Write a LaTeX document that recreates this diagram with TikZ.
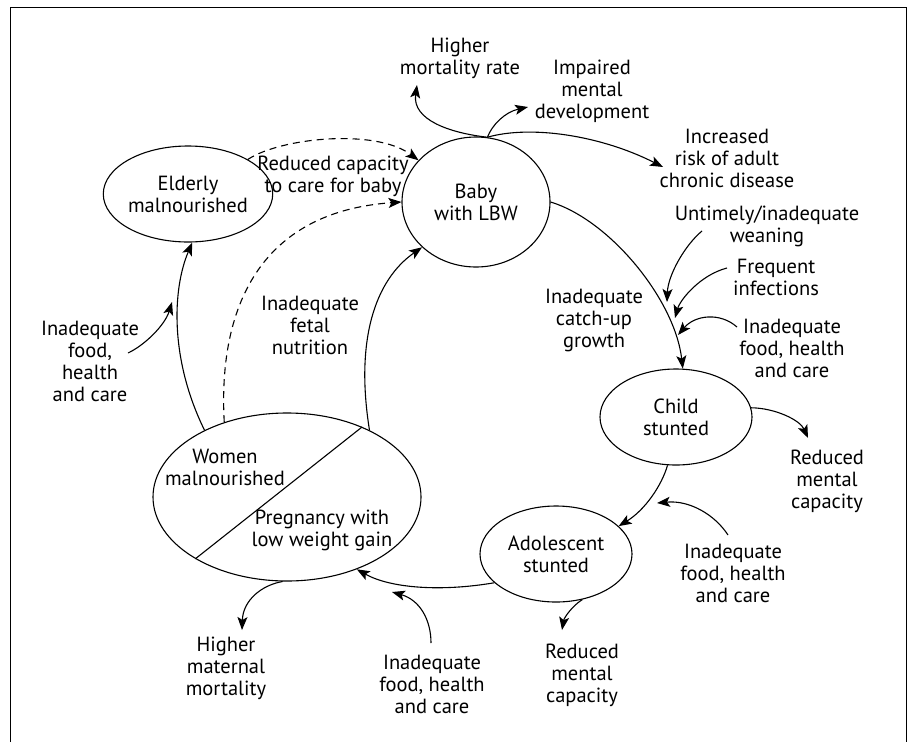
\documentclass[tikz,border=0pt]{standalone}
\usepackage{fontspec}
\setmainfont{PT Sans}
\usetikzlibrary{shapes.geometric,arrows.meta}
\newcommand{\lblfont}{\fontsize{20.5}{22}\selectfont}
\tikzset{
  lbl/.style={align=center, font=\lblfont, inner sep=0pt},
  ell/.style={ellipse, draw, line width=1.1pt, inner sep=0pt, align=center, font=\lblfont},
  arr/.style={line width=1.1pt, -{Stealth[length=13pt,width=10pt,inset=3pt]}},
  dsh/.style={arr, dash pattern=on 7pt off 5pt},
}
\begin{document}
\begin{tikzpicture}[x=1pt,y=-1pt]
\useasboundingbox (0,0) rectangle (912,742);
\draw[line width=0.9pt] (10,742) -- (10,7) -- (906,7) -- (906,742);

% ellipses
\node[ell, minimum width=150, minimum height=96] (elderly) at (188,194) {Elderly\\malnourished};
\node[ell, minimum width=148, minimum height=130] (baby) at (476,202) {Baby\\with LBW};
\node[ell, minimum width=152, minimum height=96] (child) at (676,417) {Child\\stunted};
\node[ell, minimum width=152, minimum height=96] (adol) at (556,554) {Adolescent\\stunted};
\node[ell, minimum width=268, minimum height=168] (women) at (287,497) {};
\draw[line width=1.1pt] (women.214) -- (women.43);
\node[lbl] (wm) at (225,467) {Women\\malnourished};
\node[lbl] (pw) at (322,530) {Pregnancy with\\low weight gain};

% labels
\node[lbl] (hmr) at (460,58) {Higher\\mortality rate};
\node[lbl] (imd) at (592,91) {Impaired\\mental\\development};
\node[lbl] (irc) at (727,158) {Increased\\risk of adult\\chronic disease};
\node[lbl] (rcc) at (333,176) {Reduced capacity\\to care for baby};
\node[lbl] (ifn) at (310,325) {Inadequate\\fetal\\nutrition};
\node[lbl] (ifl) at (90,361) {Inadequate\\food,\\health\\and care};
\node[lbl] (uiw) at (767,226) {Untimely/inadequate\\weaning};
\node[lbl] (fin) at (776,277) {Frequent\\infections};
\node[lbl] (icg) at (594,320) {Inadequate\\catch-up\\growth};
\node[lbl] (ifr1) at (792,348) {Inadequate\\food, health\\and care};
\node[lbl] (rmc1) at (827,481) {Reduced\\mental\\capacity};
\node[lbl] (ifr2) at (733,573) {Inadequate\\food, health\\and care};
\node[lbl] (rmc2) at (582,675) {Reduced\\mental\\capacity};
\node[lbl] (hmm) at (226,668) {Higher\\maternal\\mortality};
\node[lbl] (ifb) at (432,684) {Inadequate\\food, health\\and care};

% free ends
\coordinate (e-hmr) at (417,85);
\coordinate (e-imd) at (528,107);
\coordinate (e-irc) at (663,167);
\coordinate (s-ifl) at (128,353);
\coordinate (e-ifl) at (172,302);
\coordinate (s-uiw) at (702,231);
\coordinate (e-uiw) at (667,302);
\coordinate (s-fin) at (727,268);
\coordinate (e-fin) at (675,318);
\coordinate (s-ifr1) at (737,327);
\coordinate (e-ifr1) at (678,335);
\coordinate (e-rmc1) at (808,438);
\coordinate (s-ifr2) at (728,535);
\coordinate (e-ifr2) at (657,503);
\coordinate (e-rmc2) at (562,630);
\coordinate (e-hmm) at (242,630);
\coordinate (s-ifb) at (431,643);
\coordinate (e-ifb) at (392,592);

% baby outcomes
\draw[arr] (baby.80) .. controls (450,133) and (412,120) .. (e-hmr);
\draw[arr] (baby.80) .. controls (492,125) and (505,112) .. (e-imd);
\draw[arr] (baby.80) .. controls (530,125) and (600,135) .. (e-irc);

% dashed
\draw[dsh] (elderly.30) .. controls (280,138) and (375,128) .. (baby.144);
\draw[dsh] (women.130) .. controls (218,310) and (258,212) .. (baby.180);

% cycle
\draw[arr] (women.141) .. controls (170,360) and (172,290) .. (elderly.275);
\draw[arr] (s-ifl) .. controls (145,345) and (165,325) .. (e-ifl);
\draw[arr] (women.39) .. controls (355,340) and (375,280) .. (baby.220);
\draw[arr] (baby.0) .. controls (610,220) and (675,300) .. (child.82);
\draw[arr] (s-uiw) .. controls (685,245) and (668,275) .. (e-uiw);
\draw[arr] (s-fin) .. controls (700,275) and (680,300) .. (e-fin);
\draw[arr] (s-ifr1) .. controls (720,312) and (695,315) .. (e-ifr1);
\draw[arr] (child.7) .. controls (775,408) and (800,420) .. (e-rmc1);
\draw[arr] (child.260) .. controls (662,485) and (645,510) .. (adol.24);
\draw[arr] (s-ifr2) .. controls (715,515) and (690,500) .. (e-ifr2);
\draw[arr] (adol.205) .. controls (440,592) and (390,588) .. (women.314);
\draw[arr] (adol.300) .. controls (572,606) and (564,618) .. (e-rmc2);
\draw[arr] (women.267) .. controls (262,585) and (243,600) .. (e-hmm);
\draw[arr] (s-ifb) .. controls (431,620) and (420,600) .. (e-ifb);
\end{tikzpicture}
\end{document}
